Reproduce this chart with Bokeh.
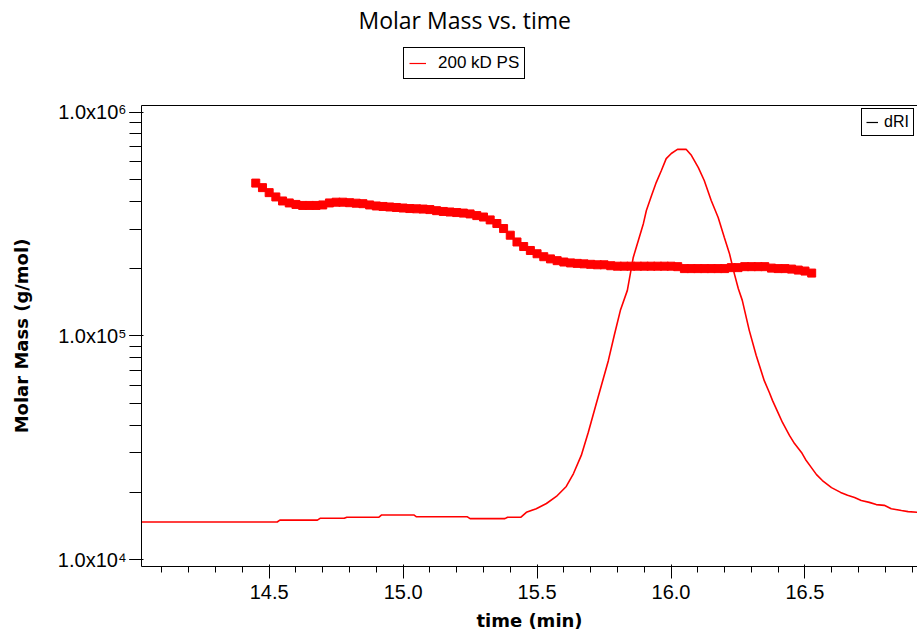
from bokeh.plotting import figure
from bokeh.layouts import column
from bokeh.models import (Range1d, LinearAxis, LinearScale, Legend, LegendItem,
                          SingleIntervalTicker, PrintfTickFormatter, CustomJSTickFormatter,
                          LogTicker, ColumnDataSource, Title)
from bokeh.embed import file_html
from bokeh.resources import INLINE

# ---------------- data ----------------
mm_time = [14.450, 14.475, 14.500, 14.525, 14.550, 14.575, 14.600, 14.625, 14.650, 14.675,
           14.700, 14.725, 14.750, 14.775, 14.800, 14.825, 14.850, 14.875, 14.900, 14.925,
           14.950, 14.975, 15.000, 15.025, 15.050, 15.075, 15.100, 15.125, 15.150, 15.175,
           15.200, 15.225, 15.250, 15.275, 15.300, 15.325, 15.350, 15.375, 15.400, 15.425,
           15.450, 15.475, 15.500, 15.525, 15.550, 15.575, 15.600, 15.625, 15.650, 15.675,
           15.700, 15.725, 15.750, 15.775, 15.800, 15.825, 15.850, 15.875, 15.900, 15.925,
           15.950, 15.975, 16.000, 16.025, 16.050, 16.075, 16.100, 16.125, 16.150, 16.175,
           16.200, 16.225, 16.250, 16.275, 16.300, 16.325, 16.350, 16.375, 16.400, 16.425,
           16.450, 16.475, 16.500, 16.525]
mm_kg_mol = [482, 460, 437, 418, 401, 393, 387, 383, 383, 383,
             385, 393, 396, 396, 394, 392, 390, 385, 381, 379,
             377, 375, 373, 371, 370, 369, 367, 363, 360, 358,
             356, 354, 351, 345, 340, 330, 318, 302, 282, 263,
             251, 241, 233, 226, 221, 217, 214, 212, 211, 210,
             209, 208, 208, 206, 205, 205, 205, 205, 205, 205,
             205, 205, 205, 204, 200, 200, 200, 200, 200, 200,
             200, 202, 202, 204, 204, 204, 204, 201, 200, 200,
             199, 197, 195, 191]
mm_value = [v * 1000 for v in mm_kg_mol]

dri_time = [14.02, 14.53, 14.54, 14.68, 14.69, 14.78, 14.79, 14.91, 14.92, 15.04,
            15.05, 15.24, 15.25, 15.38, 15.39, 15.44,
            15.460, 15.497, 15.535, 15.572, 15.609, 15.636, 15.665, 15.691, 15.718, 15.740,
            15.766, 15.788, 15.811, 15.837, 15.859, 15.878, 15.897, 15.908, 15.927, 15.945,
            15.964, 15.982, 16.001, 16.024, 16.057, 16.076, 16.102, 16.124, 16.150, 16.176,
            16.199, 16.218, 16.236, 16.251, 16.266, 16.292, 16.318, 16.348, 16.367, 16.379,
            16.401, 16.416, 16.442, 16.461, 16.487, 16.502, 16.524, 16.543, 16.565, 16.599,
            16.633, 16.659, 16.685, 16.710, 16.740, 16.766, 16.796, 16.822, 16.860, 16.885,
            16.922]
dri_value = [0.000, 0.000, 0.005, 0.005, 0.010, 0.010, 0.013, 0.013, 0.019, 0.019,
             0.014, 0.014, 0.009, 0.009, 0.013, 0.013,
             0.026, 0.036, 0.050, 0.069, 0.096, 0.131, 0.180, 0.242, 0.312, 0.369,
             0.436, 0.504, 0.572, 0.626, 0.715, 0.761, 0.807, 0.842, 0.882, 0.918,
             0.950, 0.982, 0.996, 1.007, 1.007, 0.991, 0.958, 0.923, 0.869, 0.823,
             0.769, 0.726, 0.672, 0.631, 0.599, 0.518, 0.450, 0.382, 0.350, 0.328,
             0.293, 0.269, 0.234, 0.212, 0.188, 0.169, 0.147, 0.128, 0.112, 0.093,
             0.080, 0.072, 0.066, 0.058, 0.053, 0.047, 0.045, 0.036, 0.031, 0.028,
             0.026]

title_text = "Molar Mass vs. time"
series_label = "200 kD PS"
dri_label = "dRI"
x_label = "time (min)"
y_label = "Molar Mass (g/mol)"

NAN = float("nan")

# ---------------- header figure: title + series legend ----------------
head = figure(width=917, height=97, x_range=Range1d(0, 1), y_range=Range1d(0, 1),
              output_backend="svg", toolbar_location=None,
              x_axis_location=None, y_axis_location=None,
              min_border_left=0, min_border_right=0, min_border_top=0, min_border_bottom=0)
head.title = Title(text=title_text, align="left", offset=217, text_font="Open Sans",
                   text_font_size="23px", text_font_style="normal", text_color="black",
                   standoff=2)
head.outline_line_color = None
head.grid.visible = False
head.background_fill_color = "white"
head.border_fill_color = "white"
proxy_mm = head.line(x=[NAN], y=[NAN], line_color="#ff0000", line_width=1.2)
leg_top = Legend(items=[LegendItem(label=series_label, renderers=[proxy_mm])],
                 location=(262, 18), orientation="horizontal", margin=0,
                 padding=5, glyph_width=17, glyph_height=14, label_height=14,
                 label_standoff=12, label_text_font="Liberation Sans",
                 label_text_font_size="17px", label_text_color="black",
                 border_line_color="black", border_line_alpha=1.0, border_line_width=1,
                 background_fill_color="white", background_fill_alpha=1.0)
head.add_layout(leg_top, "center")

# ---------------- main figure ----------------
p = figure(width=917, height=536, y_axis_type="log",
           x_range=Range1d(14.0235, 16.92), y_range=Range1d(9.33e3, 1.071e6),
           output_backend="svg", toolbar_location=None, title=None,
           min_border_left=141, min_border_right=0, min_border_top=8, min_border_bottom=67)
p.extra_y_ranges = {"dri": Range1d(-0.1203, 1.1257)}
p.extra_y_scales = {"dri": LinearScale()}

p.background_fill_color = "white"
p.border_fill_color = "white"
p.outline_line_color = None
p.xgrid.visible = False
p.ygrid.visible = False

# molar mass points
mm_src = ColumnDataSource(dict(t=mm_time, m=mm_value))
p.scatter("t", "m", source=mm_src, marker="square", size=8,
          fill_color="#ff0000", line_color="#ff0000")

# dRI trace
dri_src = ColumnDataSource(dict(t=dri_time, v=dri_value))
p.line("t", "v", source=dri_src, y_range_name="dri", line_color="#ff0000", line_width=1.6)

proxy_dri = p.line(x=[NAN], y=[NAN], line_color="black", line_width=1.2)

# x axis
xa = p.xaxis[0]
xa.ticker = SingleIntervalTicker(interval=0.5, num_minor_ticks=5)
xa.formatter = PrintfTickFormatter(format="%.1f")
xa.axis_label = x_label
xa.axis_label_text_font = "DejaVu Sans"
xa.axis_label_text_font_style = "bold"
xa.axis_label_text_font_size = "18px"
xa.axis_label_text_color = "black"
xa.axis_label_standoff = 8
xa.major_label_text_font = "Liberation Sans"
xa.major_label_text_font_size = "20px"
xa.major_label_text_color = "black"
xa.major_label_standoff = 6
xa.major_tick_out = 12
xa.major_tick_in = 2
xa.minor_tick_out = 6
xa.minor_tick_in = 0
xa.axis_line_color = "black"
xa.major_tick_line_color = "black"
xa.minor_tick_line_color = "black"

# y axis
ya = p.yaxis[0]
ya.ticker = LogTicker(num_minor_ticks=10)
ya.formatter = CustomJSTickFormatter(code="""
const e = Math.round(Math.log10(tick));
const sup = {'0':'\u2070','1':'\u00b9','2':'\u00b2','3':'\u00b3','4':'\u2074','5':'\u2075',
             '6':'\u2076','7':'\u2077','8':'\u2078','9':'\u2079','-':'\u207b'};
const m = tick / Math.pow(10, e);
return m.toFixed(1) + 'x10' + String(e).split('').map(c => sup[c]).join('');
""")
ya.axis_label = y_label
ya.axis_label_text_font = "DejaVu Sans"
ya.axis_label_text_font_style = "bold"
ya.axis_label_text_font_size = "18px"
ya.axis_label_text_color = "black"
ya.axis_label_standoff = 23
ya.major_label_text_font = "Liberation Sans"
ya.major_label_text_font_size = "20px"
ya.major_label_text_color = "black"
ya.major_label_standoff = 3
ya.major_tick_out = 12
ya.major_tick_in = 2
ya.minor_tick_out = 12
ya.minor_tick_in = 0
ya.axis_line_color = "black"
ya.major_tick_line_color = "black"
ya.minor_tick_line_color = "black"

# top border line (axis without ticks or labels)
top_axis = LinearAxis(ticker=SingleIntervalTicker(interval=0.5, num_minor_ticks=0),
                      major_tick_out=0, major_tick_in=0,
                      minor_tick_out=0, minor_tick_in=0, major_label_standoff=0,
                      major_label_text_font_size="0px", major_label_text_alpha=0,
                      major_tick_line_color=None, minor_tick_line_color=None,
                      axis_line_color="black")
p.add_layout(top_axis, "above")

leg_dri = Legend(items=[LegendItem(label=dri_label, renderers=[proxy_dri])],
                 location=(720, 430), margin=0, padding=4, glyph_width=12,
                 glyph_height=14, label_height=14, label_standoff=6,
                 label_text_font="Liberation Sans", label_text_font_size="16px",
                 label_text_color="black",
                 border_line_color="black", border_line_alpha=1.0, border_line_width=1,
                 background_fill_color="white", background_fill_alpha=1.0)
p.add_layout(leg_dri, "center")

layout = column(head, p, spacing=0)
open("out.html", "w").write(file_html(layout, INLINE))
